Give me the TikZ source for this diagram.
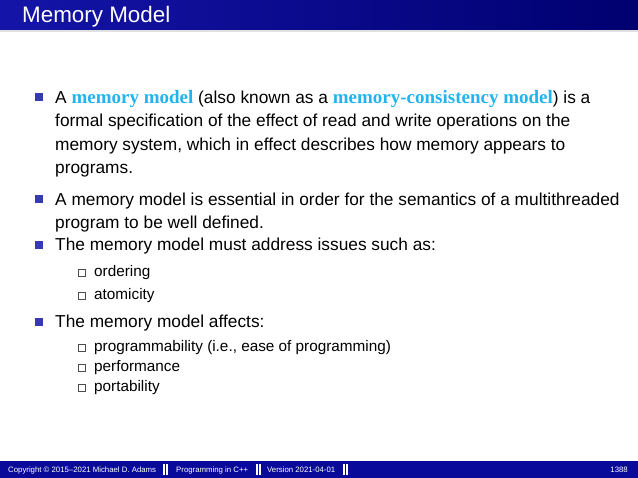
\documentclass[tikz,border=0pt]{standalone}
\usepackage{fontspec}
\setmainfont{Liberation Sans}
\newfontfamily\serifb{Liberation Serif}
\definecolor{hl}{HTML}{22B4EE}
\definecolor{barblue}{HTML}{1414A8}
\definecolor{navy}{HTML}{000070}
\definecolor{foot}{HTML}{0A0A9A}
\definecolor{bul}{HTML}{3838B4}
\tikzset{
  body/.style={anchor=base west,inner sep=0pt,font=\fontsize{17.3}{20}\selectfont},
  sub/.style={anchor=base west,inner sep=0pt,font=\fontsize{15.3}{18}\selectfont},
  ftxt/.style={anchor=base west,inner sep=0pt,text=white,font=\fontsize{7.8}{9}\selectfont},
}
\newcommand{\hlw}[1]{{\fontsize{19}{20}\serifb\bfseries\color{hl}#1}}
\begin{document}
\begin{tikzpicture}[x=1pt,y=-1pt]
\useasboundingbox (0,0) rectangle (638,478);
\shade[left color=barblue,right color=navy] (0,0) rectangle (638,30);
\fill[black!12] (0,30) rectangle (638,32);
\node[anchor=base west,inner sep=0pt,text=white,font=\fontsize{22.4}{24}\selectfont] (title) at (22,23) {Memory Model};
% bullets
\foreach \y/\n in {97/b1,199/b2,245/b3,322/b4}{
  \fill[bul] (35,\y-4) rectangle (43,\y+4);
}
\node[body] (l1) at (55,104) {A \hlw{memory model} (also known as a \hlw{memory-consistency model}) is a};
\node[body] (l2) at (55,127) {formal specification of the effect of read and write operations on the};
\node[body] (l3) at (55,151) {memory system, which in effect describes how memory appears to};
\node[body] (l4) at (55,174) {programs.};
\node[body] (l5) at (55,206) {A memory model is essential in order for the semantics of a multithreaded};
\node[body] (l6) at (55,229) {program to be well defined.};
\node[body] (l7) at (55,251) {The memory model must address issues such as:};
\node[body] (l8) at (55,328) {The memory model affects:};
\foreach \y/\t in {277/ordering,300/atomicity,352/{programmability (i.e., ease of programming)},372/performance,392/portability}{
  \draw[black!70,line width=0.6pt] (78.5,\y-8) rectangle (85.5,\y-1);
  \node[sub] at (94,\y) {\t};
}
% footer
\fill[foot] (0,461) rectangle (638,478);
\node[ftxt] (f1) at (8,473) {Copyright \textcopyright\ 2015--2021 Michael D. Adams};
\node[ftxt] (f2) at (176,473) {Programming in C++};
\node[ftxt] (f3) at (267,473) {Version 2021-04-01};
\node[ftxt,anchor=base east] (f4) at (628,473) {1388};
\foreach \x in {163,256,343}{
  \fill[white] (\x,464.5) rectangle (\x+1.6,475.5);
  \fill[white] (\x+3.4,464.5) rectangle (\x+5,475.5);
}
\end{tikzpicture}
\end{document}
